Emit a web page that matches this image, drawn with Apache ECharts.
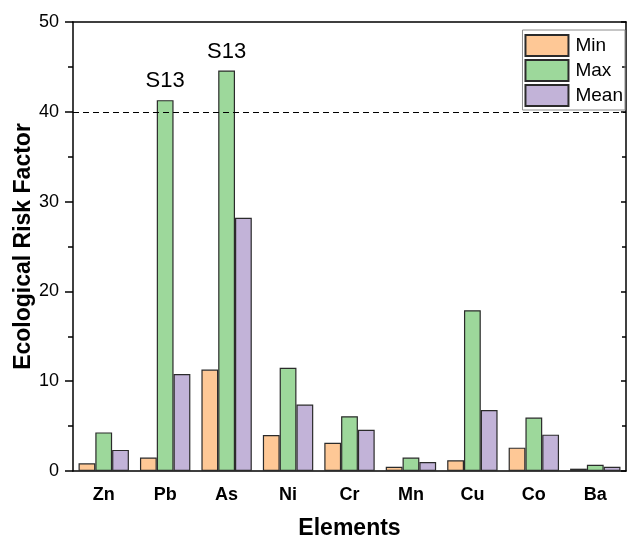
<!DOCTYPE html>
<html>
<head>
<meta charset="utf-8">
<script src="https://cdn.jsdelivr.net/npm/echarts@6/dist/echarts.min.js"></script>
<style>
  html, body { margin: 0; padding: 0; background: #fff; }
  #chart { width: 630px; height: 538px; }
</style>
</head>
<body>
<div id="chart"></div>
<script>
// 元素
var elements = ["Zn", "Pb", "As", "Ni", "Cr", "Mn", "Cu", "Co", "Ba"];
var minVals = [0.85, 1.5, 11.3, 4.0, 3.15, 0.48, 1.2, 2.6, 0.26];
var maxVals = [4.3, 41.3, 44.6, 11.5, 6.1, 1.5, 17.9, 5.95, 0.7];
var meanVals = [2.35, 10.8, 28.2, 7.4, 4.6, 1.0, 6.8, 4.05, 0.48];
// 标注 (only on Max)
var maxLabels = ["", "S13", "S13", "", "", "", "", "", ""];
var threshold = 40;

var font = "Liberation Sans, Arial, sans-serif";
var edge = "#2b2b2b";

var maxData = maxVals.map(function (v, i) {
  if (!maxLabels[i]) return v;
  return {
    value: v,
    label: {
      show: true,
      position: "top",
      distance: 8,
      formatter: maxLabels[i],
      fontFamily: font,
      fontSize: 22,
      color: "#000"
    }
  };
});

function bar(name, data, color) {
  return {
    name: name,
    type: "bar",
    barGap: "0%",
    barCategoryGap: "18%",
    data: data,
    itemStyle: { color: color, borderColor: edge, borderWidth: 1.2 }
  };
}

var chart = echarts.init(document.getElementById("chart"));
var series = [
  bar("Min", minVals, "#fec896"),
  bar("Max", maxData, "#9dd89b"),
  bar("Mean", meanVals, "#c2b3d8")
];
series[0].markLine = {
  silent: true,
  symbol: ["none", "none"],
  label: { show: false },
  lineStyle: { type: [6, 4], color: "#000", width: 1.2 },
  data: [{ yAxis: threshold }]
};

var plainCat = function (extra) {
  var base = {
    type: "category",
    data: elements,
    axisLine: { show: false },
    axisLabel: { show: false },
    splitLine: { show: false }
  };
  return Object.assign(base, extra);
};

chart.setOption({
  animation: false,
  backgroundColor: "#fff",
  grid: { left: 73, right: 4, top: 22, bottom: 67, outerBoundsMode: "none" },
  legend: {
    orient: "vertical",
    right: 5,
    top: 30,
    icon: "rect",
    itemWidth: 43,
    itemHeight: 21,
    itemGap: 2,
    padding: [4, 2, 3, 2],
    borderColor: "#8c8c8c",
    borderWidth: 1,
    textStyle: { fontFamily: font, fontSize: 19, color: "#000", padding: [0, 0, 0, 2] },
    data: ["Min", "Max", "Mean"]
  },
  xAxis: [
    {
      type: "category",
      data: elements,
      name: "Elements",
      nameLocation: "middle",
      nameGap: 46,
      nameTextStyle: { fontFamily: font, fontSize: 23, fontWeight: "bold", color: "#000" },
      axisLine: { lineStyle: { color: "#000", width: 1.5 } },
      axisTick: { alignWithLabel: true, length: 7, lineStyle: { color: "#000", width: 1.5 } },
      axisLabel: { margin: 15, fontFamily: font, fontSize: 18, fontWeight: "bold", color: "#000" }
    },
    plainCat({ axisTick: { length: 3, lineStyle: { color: "#000", width: 1.5 } } }),
    plainCat({
      position: "top",
      axisLine: { show: true, lineStyle: { color: "#000", width: 1.5 } },
      axisTick: { inside: true, alignWithLabel: true, length: 7, lineStyle: { color: "#000", width: 1.5 } }
    }),
    plainCat({
      position: "top",
      axisTick: { inside: true, length: 3, lineStyle: { color: "#000", width: 1.5 } }
    })
  ],
  yAxis: [
    {
      type: "value",
      min: 0,
      max: 50,
      interval: 10,
      name: "Ecological Risk Factor",
      nameLocation: "middle",
      nameGap: 38,
      nameMoveOverlap: false,
      nameTextStyle: { fontFamily: font, fontSize: 23, fontWeight: "bold", color: "#000" },
      axisLine: { show: true, lineStyle: { color: "#000", width: 1.5 } },
      axisTick: { show: true, length: 8, lineStyle: { color: "#000", width: 1.5 } },
      minorTick: { show: true, splitNumber: 2, length: 5, lineStyle: { color: "#000", width: 1.5 } },
      splitLine: { show: false },
      axisLabel: { margin: 14, fontFamily: font, fontSize: 18, color: "#000" }
    },
    {
      type: "value",
      min: 0,
      max: 50,
      interval: 10,
      position: "right",
      axisLine: { show: true, lineStyle: { color: "#000", width: 1.5 } },
      axisTick: { show: true, inside: true, length: 5, lineStyle: { color: "#000", width: 1.5 } },
      minorTick: { show: true, splitNumber: 2, length: 4, lineStyle: { color: "#000", width: 1.5 } },
      splitLine: { show: false },
      axisLabel: { show: false }
    }
  ],
  series: series
});
</script>
</body>
</html>
